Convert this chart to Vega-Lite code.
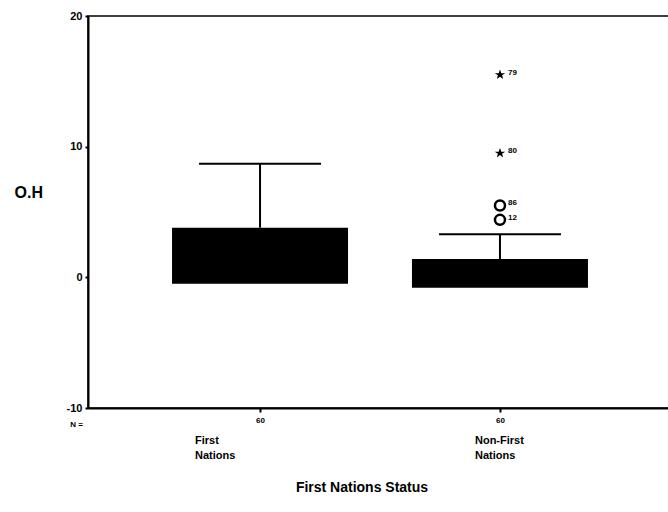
{
  "$schema": "https://vega.github.io/schema/vega-lite/v6.json",
  "width": 584,
  "height": 392,
  "autosize": "none",
  "padding": {"left": 88, "top": 16, "right": 0, "bottom": 104},
  "background": "white",
  "config": {
    "font": "Liberation Sans",
    "view": {"stroke": "black", "strokeWidth": 1.5},
    "axis": {"labelFont": "Liberation Sans", "titleFont": "Liberation Sans", "labelFontWeight": "bold", "titleFontWeight": "bold", "labelColor": "black", "titleColor": "black", "domainColor": "black", "tickColor": "black", "grid": false}
  },
  "title": {"text": "First Nations Status", "orient": "bottom", "anchor": "middle", "frame": "group", "dx": -18, "fontSize": 14, "fontWeight": "bold", "font": "Liberation Sans", "color": "black", "offset": 20},
  "datasets": {
    "stats": [
      {"cat": "First Nations", "q1": -0.5, "q3": 3.8, "whisk": 8.7, "n": "60", "l1": "First", "l2": "Nations"},
      {"cat": "Non-First Nations", "q1": -0.8, "q3": 1.4, "whisk": 3.3, "n": "60", "l1": "Non-First", "l2": "Nations"}
    ],
    "out": [
      {"cat": "Non-First Nations", "v": 15.5, "kind": "extreme", "id": "79"},
      {"cat": "Non-First Nations", "v": 9.5, "kind": "extreme", "id": "80"},
      {"cat": "Non-First Nations", "v": 5.5, "kind": "outlier", "id": "86"},
      {"cat": "Non-First Nations", "v": 4.4, "kind": "outlier", "id": "12"}
    ]
  },
  "encoding": {
    "x": {"field": "cat", "type": "nominal", "sort": ["First Nations", "Non-First Nations"],
      "scale": {"type": "point", "padding": 0.717},
      "axis": {"title": "N =", "titleFontSize": 8, "titleX": -12, "titleY": 12, "titleAnchor": "middle", "titleAlign": "center",
        "labelExpr": "'60'", "labelFontSize": 8, "labelAngle": 0, "tickSize": 4, "tickWidth": 2, "labelPadding": 4, "domainWidth": 2}}
  },
  "layer": [
    {
      "data": {"name": "stats"},
      "mark": {"type": "rule", "color": "black", "strokeWidth": 2},
      "encoding": {
        "y": {"field": "q3", "type": "quantitative", "scale": {"domain": [-10, 20], "nice": false, "zero": false},
          "axis": {"values": [-10, 0, 10, 20], "format": "d", "labelExpr": "replace(datum.label, '−', '-')", "title": "O.H", "titleAngle": 0, "titleFontSize": 16, "titleX": -74, "titleY": 176, "titleAlign": "left", "titleBaseline": "middle",
            "labelFontSize": 11, "tickSize": 3, "tickWidth": 2, "labelPadding": 3, "domainWidth": 2}},
        "y2": {"field": "whisk"}
      }
    },
    {
      "data": {"name": "stats"},
      "mark": {"type": "tick", "color": "black", "opacity": 1, "size": 122, "thickness": 2, "orient": "horizontal"},
      "encoding": {"y": {"field": "whisk", "type": "quantitative"}}
    },
    {
      "data": {"name": "stats"},
      "mark": {"type": "bar", "color": "black", "width": 176},
      "encoding": {"y": {"field": "q1", "type": "quantitative"}, "y2": {"field": "q3"}}
    },
    {
      "data": {"name": "out"},
      "transform": [{"filter": "datum.kind == 'extreme'"}],
      "mark": {"type": "point", "filled": true, "color": "black", "size": 110, "opacity": 1,
        "shape": "M0,-1L0.25,-0.3L1,-0.3L0.4,0.1L0.6,0.8L0,0.35L-0.6,0.8L-0.4,0.1L-1,-0.3L-0.25,-0.3Z"},
      "encoding": {"y": {"field": "v", "type": "quantitative"}}
    },
    {
      "data": {"name": "out"},
      "transform": [{"filter": "datum.kind == 'outlier'"}],
      "mark": {"type": "point", "filled": false, "color": "black", "size": 100, "strokeWidth": 2.5, "opacity": 1},
      "encoding": {"y": {"field": "v", "type": "quantitative"}}
    },
    {
      "data": {"name": "out"},
      "mark": {"type": "text", "align": "left", "baseline": "middle", "dx": 8, "dy": -2, "fontSize": 8, "fontWeight": "bold", "color": "black"},
      "encoding": {"y": {"field": "v", "type": "quantitative"}, "text": {"field": "id"}}
    },
    {
      "data": {"name": "stats"},
      "transform": [{"filter": "datum.cat == 'First Nations'"}],
      "mark": {"type": "text", "align": "left", "baseline": "top", "dx": -65, "fontSize": 11, "fontWeight": "bold", "color": "black"},
      "encoding": {"y": {"datum": -12.1}, "text": {"field": "l1"}}
    },
    {
      "data": {"name": "stats"},
      "transform": [{"filter": "datum.cat == 'First Nations'"}],
      "mark": {"type": "text", "align": "left", "baseline": "top", "dx": -65, "fontSize": 11, "fontWeight": "bold", "color": "black"},
      "encoding": {"y": {"datum": -13.2}, "text": {"field": "l2"}}
    },
    {
      "data": {"name": "stats"},
      "transform": [{"filter": "datum.cat == 'Non-First Nations'"}],
      "mark": {"type": "text", "align": "left", "baseline": "top", "dx": -25, "fontSize": 11, "fontWeight": "bold", "color": "black"},
      "encoding": {"y": {"datum": -12.1}, "text": {"field": "l1"}}
    },
    {
      "data": {"name": "stats"},
      "transform": [{"filter": "datum.cat == 'Non-First Nations'"}],
      "mark": {"type": "text", "align": "left", "baseline": "top", "dx": -25, "fontSize": 11, "fontWeight": "bold", "color": "black"},
      "encoding": {"y": {"datum": -13.2}, "text": {"field": "l2"}}
    }
  ]
}
